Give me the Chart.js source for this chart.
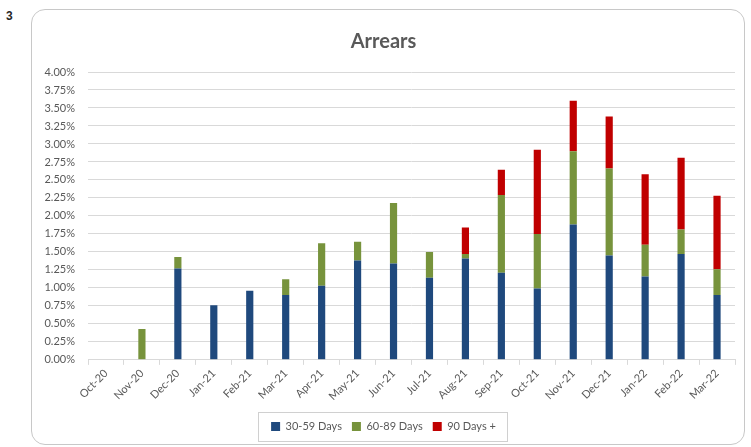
<!DOCTYPE html>
<html>
<head>
<meta charset="utf-8">
<script src="https://cdn.jsdelivr.net/npm/chart.js@4.4.1/dist/chart.umd.min.js"></script>
<style>
  body { margin: 0; background: #fff; font-family: Lato, sans-serif; }
  #num { position: absolute; left: 6px; top: 9px; font: bold 12px "Liberation Sans", Arial, sans-serif; color: #262626; }
  #box {
    position: absolute; left: 31px; top: 9px; width: 712px; height: 434px;
    border: 1px solid #c8c8c8; border-radius: 14px; overflow: hidden;
  }
</style>
</head>
<body>
<div id="num">3</div>
<div id="box"><canvas id="arrearsChart"></canvas></div>
<script>
// ========== DATA ========== //
const months = ["Oct-20", "Nov-20", "Dec-20", "Jan-21", "Feb-21", "Mar-21", "Apr-21", "May-21", "Jun-21",
  "Jul-21", "Aug-21", "Sep-21", "Oct-21", "Nov-21", "Dec-21", "Jan-22", "Feb-22", "Mar-22"];
const days30to59 = [0, 0, 1.27, 0.76, 0.96, 0.90, 1.03, 1.38, 1.34, 1.14, 1.41, 1.21, 0.99, 1.88, 1.45, 1.16, 1.47, 0.90];
const days60to89 = [0, 0.43, 0.16, 0, 0, 0.22, 0.59, 0.26, 0.84, 0.36, 0.06, 1.08, 0.76, 1.02, 1.21, 0.44, 0.34, 0.36];
const days90plus = [0, 0, 0, 0, 0, 0, 0, 0, 0, 0, 0.37, 0.35, 1.17, 0.70, 0.72, 0.98, 1.00, 1.02];
const seriesNames = ["30-59 Days", "60-89 Days", "90 Days +"];

// ========== LEGEND FRAME ========== //
const legendFrame = {
  id: "legendFrame",
  afterDraw(chart) {
    const boxes = chart.legend.legendHitBoxes;
    if (!boxes || !boxes.length) return;
    const left = Math.min(...boxes.map(b => b.left)) - 13;
    const right = Math.max(...boxes.map(b => b.left + b.width)) + 11;
    const top = Math.min(...boxes.map(b => b.top)) - 9;
    const bottom = Math.max(...boxes.map(b => b.top + b.height)) + 9;
    const ctx = chart.ctx;
    ctx.save();
    ctx.strokeStyle = "#d0d0d0";
    ctx.lineWidth = 1;
    ctx.strokeRect(Math.round(left) + 0.5, Math.round(top) + 0.5, Math.round(right - left), Math.round(bottom - top));
    ctx.restore();
  }
};

// ========== CHART ========== //
const ctx = document.getElementById("arrearsChart").getContext("2d");
const tickFont = { family: "Lato", size: 11 };

new Chart(ctx, {
  type: "bar",
  data: {
    labels: months,
    datasets: [
      { label: seriesNames[0], data: days30to59, backgroundColor: "#1F497D" },
      { label: seriesNames[1], data: days60to89, backgroundColor: "#77933C" },
      { label: seriesNames[2], data: days90plus, backgroundColor: "#C00000" }
    ]
  },
  options: {
    responsive: true,
    maintainAspectRatio: false,
    animation: false,
    categoryPercentage: 0.4,
    barPercentage: 0.5,
    layout: { padding: { left: 0, right: 9, top: 0, bottom: 2 } },
    plugins: {
      title: {
        display: true,
        text: "Arrears",
        color: "#595959",
        font: { family: "Lato", size: 20, weight: "bold" },
        padding: { top: 20, bottom: 18 }
      },
      legend: {
        position: "bottom",
        labels: {
          color: "#595959",
          font: tickFont,
          boxWidth: 9,
          boxHeight: 9,
          padding: 10
        }
      },
      tooltip: { enabled: false }
    },
    scales: {
      x: {
        stacked: true,
        afterFit: scale => { scale.height += 6; },
        border: { color: "#d9d9d9" },
        grid: { drawOnChartArea: false, color: "#d9d9d9", tickLength: 5 },
        ticks: { color: "#595959", font: tickFont, minRotation: 45, maxRotation: 45, padding: 2 }
      },
      y: {
        stacked: true,
        min: 0,
        max: 4,
        afterFit: scale => { scale.width = 56; },
        border: { display: false },
        grid: { color: "#d9d9d9", drawTicks: false },
        ticks: {
          stepSize: 0.25,
          color: "#595959",
          font: tickFont,
          padding: 13,
          callback: v => v.toFixed(2) + "%"
        }
      }
    }
  },
  plugins: [legendFrame]
});
</script>
</body>
</html>
